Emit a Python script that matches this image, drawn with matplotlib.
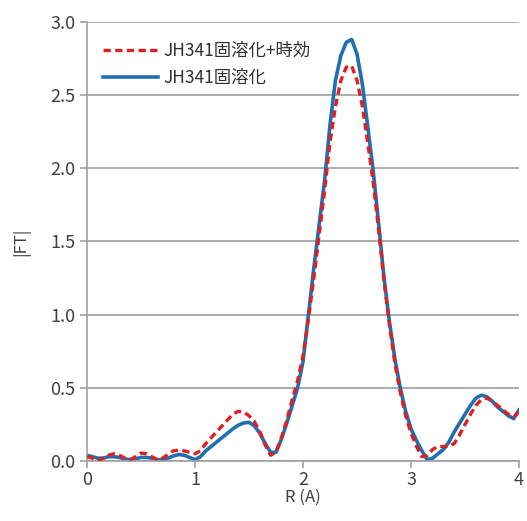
import matplotlib.pyplot as plt

plt.rcParams['font.family'] = ['Noto Sans CJK JP', 'DejaVu Sans']

r = [0.00, 0.05, 0.10, 0.15, 0.20, 0.25, 0.30, 0.35, 0.40, 0.45,
     0.50, 0.55, 0.60, 0.65, 0.70, 0.75, 0.80, 0.85, 0.90, 0.95,
     1.00, 1.05, 1.10, 1.15, 1.20, 1.25, 1.30, 1.35, 1.40, 1.45,
     1.50, 1.55, 1.60, 1.65, 1.70, 1.75, 1.80, 1.85, 1.90, 1.95,
     2.00, 2.05, 2.10, 2.15, 2.20, 2.25, 2.30, 2.35, 2.40, 2.45,
     2.50, 2.55, 2.60, 2.65, 2.70, 2.75, 2.80, 2.85, 2.90, 2.95,
     3.00, 3.05, 3.10, 3.15, 3.20, 3.25, 3.30, 3.35, 3.40, 3.45,
     3.50, 3.55, 3.60, 3.65, 3.70, 3.75, 3.80, 3.85, 3.90, 3.95, 4.00]

# JH341固溶化+時効
ft_aged = [0.03, 0.02, 0.00, 0.02, 0.04, 0.05, 0.04, 0.02, 0.01, 0.03,
           0.055, 0.05, 0.03, 0.01, 0.02, 0.045, 0.07, 0.075, 0.07, 0.06,
           0.05, 0.07, 0.12, 0.16, 0.20, 0.24, 0.28, 0.32, 0.34, 0.335,
           0.31, 0.27, 0.20, 0.11, 0.04, 0.06, 0.16, 0.28, 0.42, 0.55,
           0.72, 0.97, 1.25, 1.55, 1.85, 2.18, 2.42, 2.60, 2.69, 2.70,
           2.60, 2.42, 2.17, 1.90, 1.58, 1.23, 0.93, 0.67, 0.47, 0.31,
           0.19, 0.10, 0.03, 0.04, 0.08, 0.10, 0.10, 0.10, 0.12, 0.18,
           0.25, 0.32, 0.38, 0.42, 0.43, 0.41, 0.38, 0.35, 0.32, 0.30, 0.34]

# JH341固溶化
ft_solution = [0.04, 0.03, 0.02, 0.02, 0.03, 0.03, 0.025, 0.015, 0.01, 0.015,
               0.025, 0.025, 0.02, 0.01, 0.01, 0.02, 0.035, 0.045, 0.04, 0.025,
               0.01, 0.03, 0.07, 0.10, 0.13, 0.16, 0.19, 0.22, 0.245, 0.26,
               0.265, 0.24, 0.19, 0.12, 0.06, 0.06, 0.15, 0.26, 0.38, 0.50,
               0.68, 1.00, 1.32, 1.62, 1.92, 2.30, 2.60, 2.77, 2.86, 2.88,
               2.78, 2.57, 2.28, 1.98, 1.62, 1.25, 0.95, 0.70, 0.50, 0.34,
               0.22, 0.14, 0.07, 0.01, 0.02, 0.05, 0.08, 0.13, 0.20, 0.26,
               0.32, 0.38, 0.43, 0.45, 0.44, 0.41, 0.37, 0.34, 0.31, 0.29, 0.35]

fig = plt.figure(figsize=(5.27, 5.21), dpi=100)
ax = fig.add_axes([0.165, 0.115, 0.82, 0.843])

ax.plot(r, ft_aged, color='#e02020', lw=2.4, ls=(0, (2.2, 1.3)),
        label='JH341固溶化+時効', zorder=3)
ax.plot(r, ft_solution, color='#1f6fb2', lw=2.6,
        label='JH341固溶化', zorder=2)

ax.set_xlim(0, 4)
ax.set_ylim(0, 3.0)
ax.set_xticks([0, 1, 2, 3, 4])
ax.set_yticks([0.0, 0.5, 1.0, 1.5, 2.0, 2.5, 3.0])
ax.set_yticklabels(['0.0', '0.5', '1.0', '1.5', '2.0', '2.5', '3.0'])
ax.grid(axis='y', color='#a0a0a0', lw=1.2)
ax.set_axisbelow(True)

for s in ['top', 'right']:
    ax.spines[s].set_visible(False)
for s in ['left', 'bottom']:
    ax.spines[s].set_color('#a0a0a0')
    ax.spines[s].set_linewidth(1.2)
ax.tick_params(colors='#a0a0a0', labelcolor='#404040', labelsize=13,
               length=5, width=1.2)
ax.tick_params(axis='x', pad=2)

ax.set_xlabel('R (A)', fontsize=12, color='#404040', labelpad=0)
ax.set_ylabel('|FT|', fontsize=12, color='#404040', labelpad=14)

leg = ax.legend(loc='upper left', frameon=False, fontsize=12.5,
                handlelength=3.2, handletextpad=0.3, labelspacing=0.5,
                bbox_to_anchor=(0.0, 0.99))
for t in leg.get_texts():
    t.set_color('#303030')

fig.savefig('out.png', dpi=100)
